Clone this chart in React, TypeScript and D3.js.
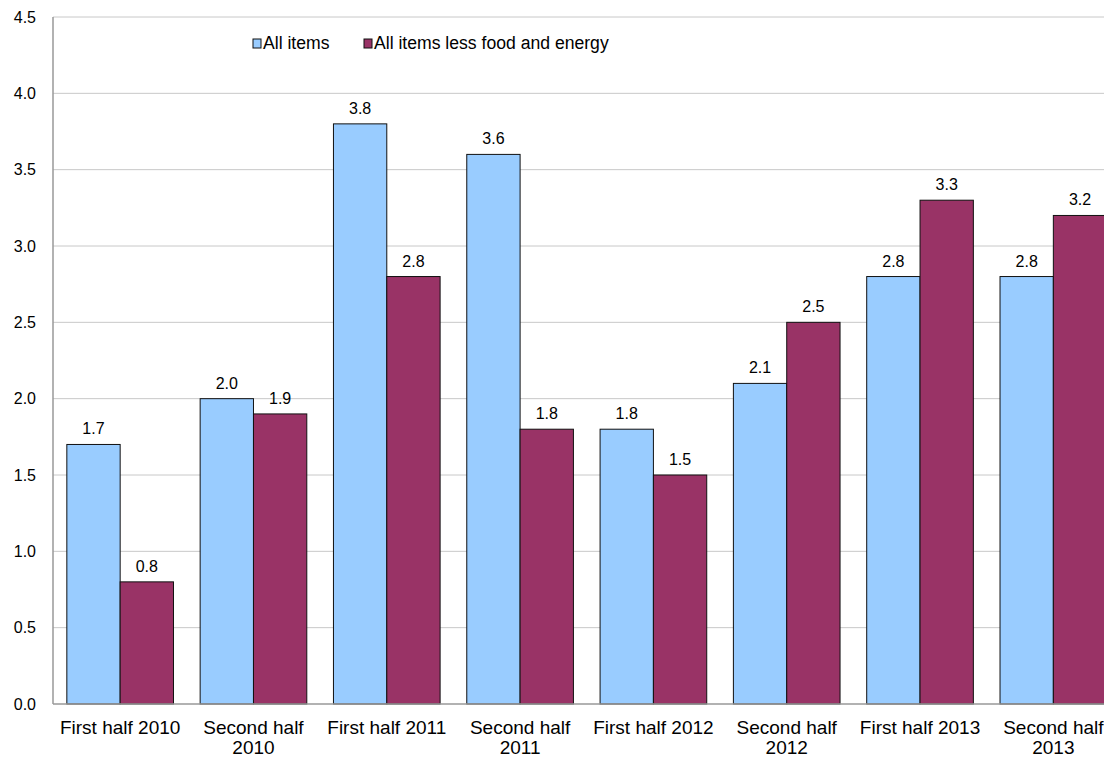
import React from "react";
import * as d3 from "d3";

const categories = [
  "First half 2010",
  "Second half\n2010",
  "First half 2011",
  "Second half\n2011",
  "First half 2012",
  "Second half\n2012",
  "First half 2013",
  "Second half\n2013",
];
const allItems = [1.7, 2.0, 3.8, 3.6, 1.8, 2.1, 2.8, 2.8];
const coreItems = [0.8, 1.9, 2.8, 1.8, 1.5, 2.5, 3.3, 3.2];
const seriesNames = ["All items", "All items less food and energy"];
const yTicks = [0, 0.5, 1, 1.5, 2, 2.5, 3, 3.5, 4, 4.5];

const W = 1104;
const H = 757;
const left = 53;
const top = 17;
const bottom = 704;
const right = 1120;
const colors = ["#99CCFF", "#993366"];
const font = "'Liberation Sans', Arial, sans-serif";

export default function App() {
  const x = d3.scaleBand<string>().domain(categories).range([left + 0.5, right]).paddingInner(0.2).paddingOuter(0.1);
  const x1 = d3.scaleBand<number>().domain([0, 1]).range([0, x.bandwidth()]);
  const y = d3.scaleLinear().domain([0, 4.5]).range([bottom, top]);
  const series = [allItems, coreItems];

  return (
    <svg width={W} height={H} style={{ position: "absolute", left: 0, top: 0, background: "#fff" }} fontFamily={font}>
      {yTicks.map((t) => (
        <g key={t}>
          {t > 0 && <line x1={left} x2={W} y1={y(t)} y2={y(t)} stroke="#C8C8C8" strokeWidth={1} />}
          <text x={36} y={y(t)} dy="0.35em" textAnchor="end" fontSize={16} fill="#000">
            {d3.format(".1f")(t)}
          </text>
        </g>
      ))}
      {categories.map((c, i) =>
        series.map((s, k) => {
          const bx = (x(c) as number) + (x1(k) as number);
          const by = y(s[i]);
          return (
            <g key={c + k}>
              <rect x={bx} y={by} width={x1.bandwidth()} height={bottom - by} fill={colors[k]} stroke="#111" strokeWidth={1} />
              <text x={bx + x1.bandwidth() / 2} y={by - 10} textAnchor="middle" fontSize={16} fill="#000">
                {d3.format(".1f")(s[i])}
              </text>
            </g>
          );
        })
      )}
      <line x1={left} x2={left} y1={top} y2={bottom} stroke="#999" strokeWidth={1.5} />
      <line x1={left} x2={W} y1={bottom} y2={bottom} stroke="#999" strokeWidth={1.5} />
      {categories.map((c) => {
        const cx = (x(c) as number) + x.bandwidth() / 2;
        return (
          <text key={c} x={cx} y={734} textAnchor="middle" fontSize={19} fill="#000">
            {c.split("\n").map((ln, j) => (
              <tspan key={j} x={cx} dy={j === 0 ? 0 : 20}>
                {ln}
              </tspan>
            ))}
          </text>
        );
      })}
      {seriesNames.map((n, k) => {
        const lx = k === 0 ? 253 : 364;
        return (
          <g key={n}>
            <rect x={lx} y={39} width={8} height={9} fill={colors[k]} stroke="#111" strokeWidth={1} />
            <text x={lx + 10} y={49} fontSize={17.6} fill="#000">
              {n}
            </text>
          </g>
        );
      })}
    </svg>
  );
}
